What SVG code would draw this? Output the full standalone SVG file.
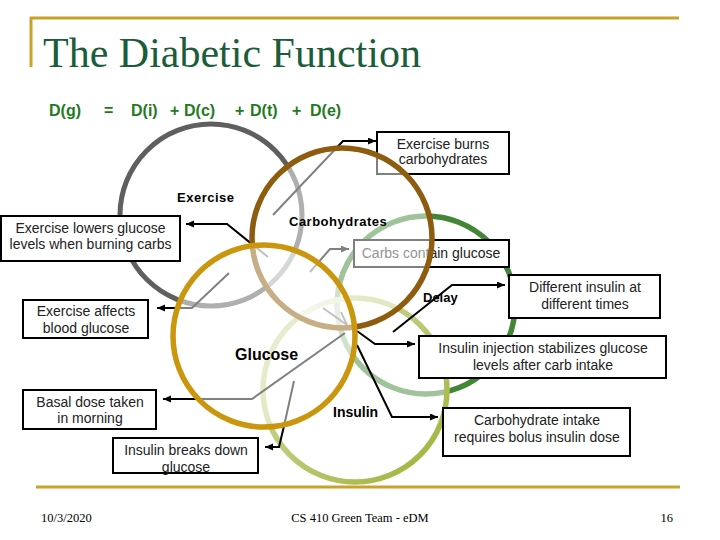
<svg xmlns="http://www.w3.org/2000/svg" width="720" height="540" viewBox="0 0 720 540">
<style>
.frame{stroke:#c9a22a;stroke-width:3;fill:none}
.title{font-family:"Liberation Serif",serif;font-size:42px;fill:#1b5d3a}
.eq{font-family:"Liberation Sans",Arial,sans-serif;font-size:16px;font-weight:bold;fill:#1f7a22}
.foot{font-family:"Liberation Serif",serif;font-size:12.5px;fill:#000}
.ring{stroke-width:5.5;fill:#fff;fill-opacity:0.5}
.lbl{font-family:"Liberation Sans",Arial,sans-serif;font-weight:bold;font-size:13px;fill:#000;letter-spacing:0.5px}
.box rect{fill:#fff;stroke:#000;stroke-width:2}
.box text{font-family:"Liberation Sans",Arial,sans-serif;font-size:14px;fill:#222;text-anchor:middle}
.con{fill:none;stroke:#000;stroke-width:2;marker-end:url(#ah)}
.con2{fill:none;stroke:#000;stroke-width:1.8}
</style>
<defs>
<marker id="ah" markerUnits="userSpaceOnUse" markerWidth="9" markerHeight="8" refX="8" refY="3.5" orient="auto">
<path d="M0,0 L8,3.5 L0,7 z" fill="#000"/>
</marker>
<linearGradient id="gIns" x1="0" y1="0" x2="1" y2="1">
<stop offset="0" stop-color="#d9dfb0"/>
<stop offset="1" stop-color="#9db236"/>
</linearGradient>
</defs>
<rect width="720" height="540" fill="#fff"/>
<g id="frame">
<path class="frame" d="M30,18 H679 M31,17 V67"/>
<path class="frame" d="M36,487 H680"/>
</g>
<text class="title" x="43" y="67">The Diabetic Function</text>
<text class="eq" y="116"><tspan x="49">D(g)</tspan><tspan x="104">=</tspan><tspan x="131">D(i)</tspan><tspan x="170">+</tspan><tspan x="184">D(c)</tspan><tspan x="235">+</tspan><tspan x="250">D(t)</tspan><tspan x="292">+</tspan><tspan x="310">D(e)</tspan></text>
<text class="foot" x="41" y="522">10/3/2020</text>
<text class="foot" x="360" y="522" text-anchor="middle">CS 410 Green Team - eDM</text>
<text class="foot" x="673" y="522" text-anchor="end">16</text>

<g id="exercise">
<circle cx="211" cy="215" r="91" stroke="#5f5f5f" stroke-width="5" fill="none"/>
<text class="lbl" x="177" y="202">Exercise</text>
</g>
<g id="delay">
<circle class="ring" cx="426" cy="305" r="89" stroke="#428636" stroke-width="5.5"/>
<text class="lbl" x="423" y="302" style="letter-spacing:0">Delay</text>
</g>
<g id="insulin">
<circle class="ring" cx="355" cy="390" r="92" stroke="url(#gIns)"/>
<text class="lbl" x="333" y="417" style="font-size:14px;letter-spacing:0">Insulin</text>
</g>

<g id="connectors">
<polyline class="con" points="273,215 343,141 376,141"/>
<polyline class="con" points="268,257 227,224 186,224"/>
<polyline class="con" points="310,272 330,249 349,249"/>
<polyline class="con" points="229,273 192,308 157,308"/>
<polyline class="con" points="345,333 252,399 163,399"/>
<polyline class="con" points="294,381 284,426 279,447 265,447"/>
<polyline class="con" points="393,332 452,285 505,285"/>
<polyline class="con" points="357,331 375,344 415,344"/>
<polyline class="con" points="357,345 392,417 438,417"/>
<path class="con2" d="M323,308 L347,325 M341,312 L347,325"/>
</g>

<g id="box-burns" class="box">
<rect x="377" y="132" width="132" height="42"/>
<text x="443" y="149">Exercise burns</text>
<text x="443" y="164">carbohydrates</text>
</g>
<g id="box-lowers" class="box">
<rect x="1" y="216" width="179" height="45"/>
<text x="90.5" y="233">Exercise lowers glucose</text>
<text x="90.5" y="249">levels when burning carbs</text>
</g>
<g id="box-contain" class="box">
<rect x="354" y="240" width="155" height="27"/>
<text x="431" y="258">Carbs contain glucose</text>
</g>
<g id="box-affects" class="box">
<rect x="23" y="300" width="125" height="38"/>
<text x="86" y="316">Exercise affects</text>
<text x="86" y="333">blood glucose</text>
</g>
<g id="box-different" class="box">
<rect x="509" y="275" width="151" height="43"/>
<text x="585" y="292">Different insulin at</text>
<text x="585" y="309">different times</text>
</g>
<g id="box-injection" class="box">
<rect x="419" y="336" width="247" height="42"/>
<text x="543" y="353">Insulin injection stabilizes glucose</text>
<text x="543" y="370">levels after carb intake</text>
</g>
<g id="box-bolus" class="box">
<rect x="443" y="408" width="187" height="48"/>
<text x="537" y="425">Carbohydrate intake</text>
<text x="537" y="442">requires bolus insulin dose</text>
</g>
<g id="box-basal" class="box">
<rect x="23" y="390" width="133" height="39"/>
<text x="90" y="407">Basal dose taken</text>
<text x="90" y="423">in morning</text>
</g>
<g id="box-breaks" class="box">
<rect x="113" y="438" width="145" height="35"/>
<text x="186" y="455">Insulin breaks down</text>
<text x="186" y="472">glucose</text>
</g>

<g id="carbohydrates">
<circle class="ring" cx="342" cy="238" r="90" stroke="#8d5c0e"/>
<text class="lbl" x="289" y="226">Carbohydrates</text>
</g>
<g id="glucose">
<circle class="ring" cx="264" cy="336" r="91" stroke="#c9960e"/>
<text class="lbl" x="235" y="360" style="font-size:16px;letter-spacing:0">Glucose</text>
</g>
</svg>
